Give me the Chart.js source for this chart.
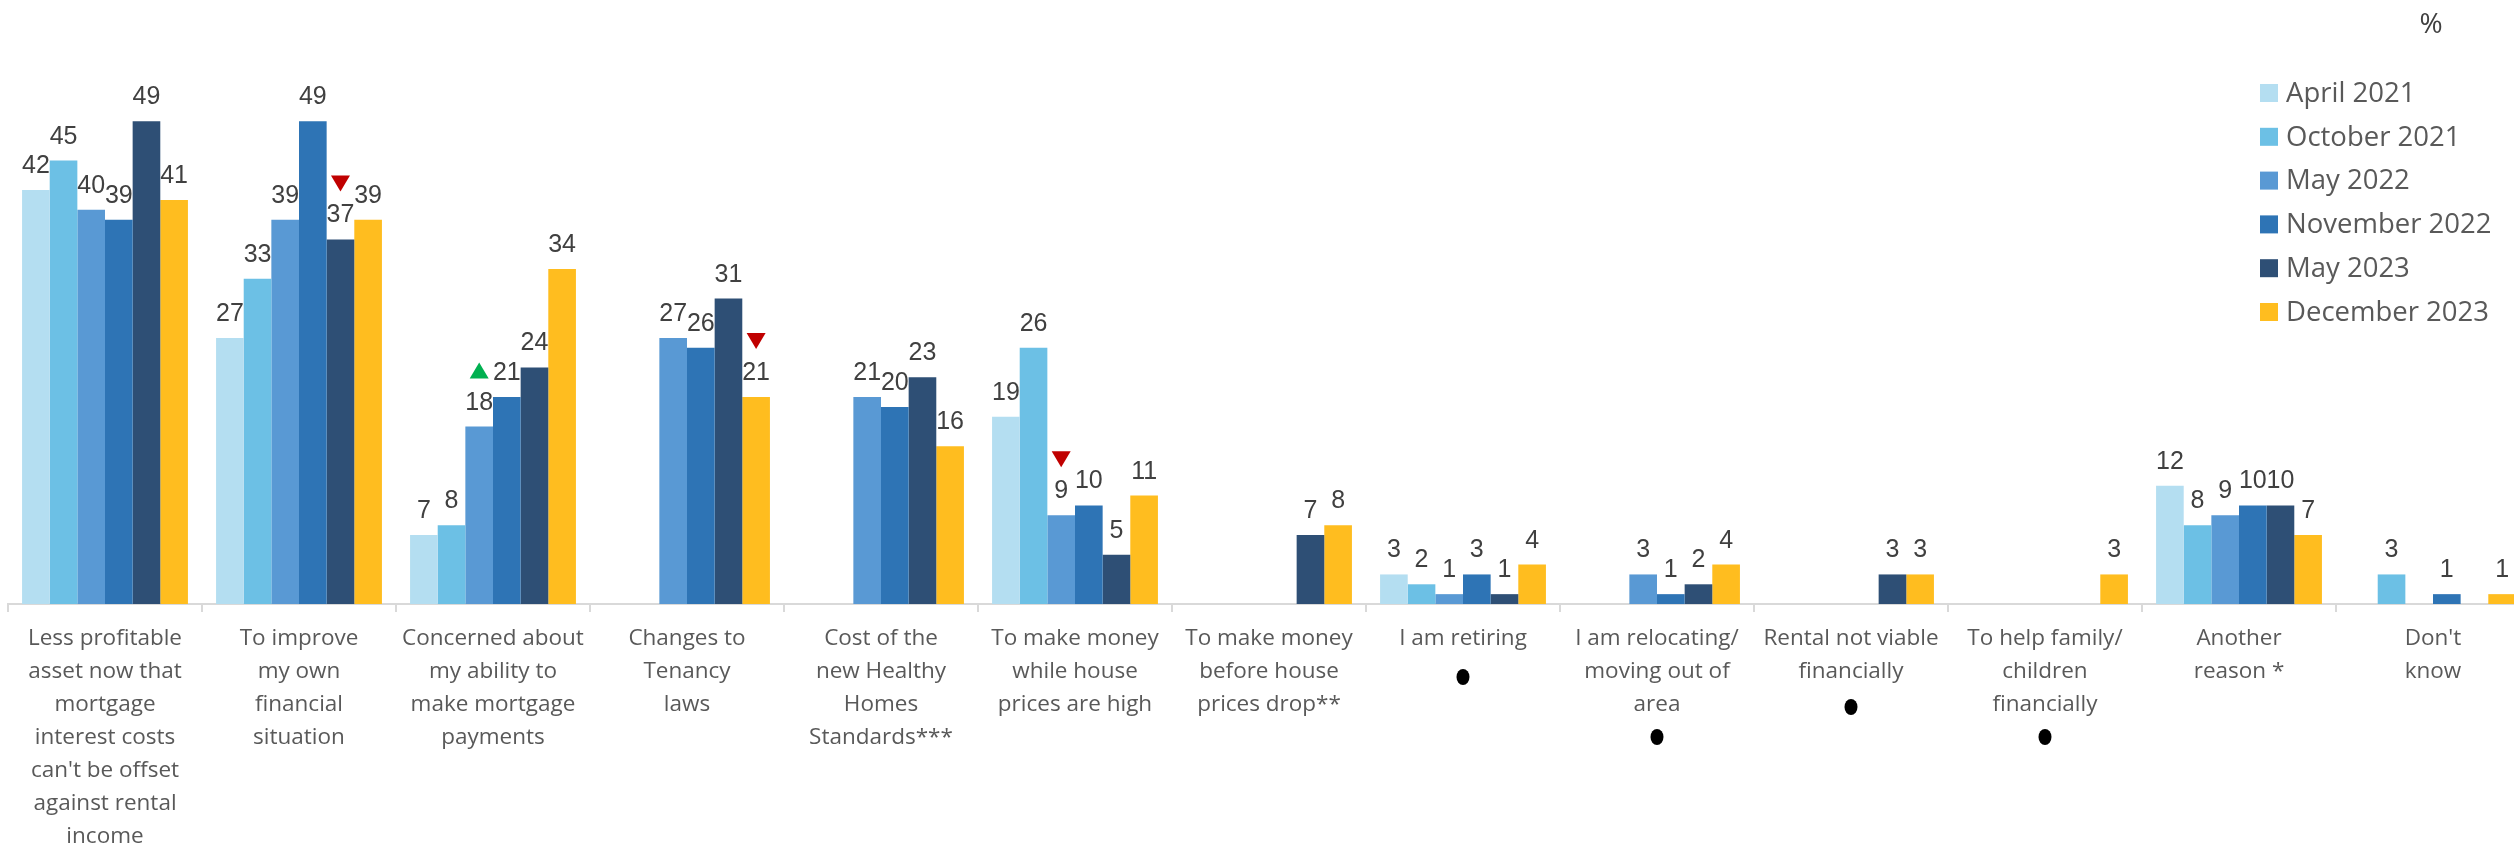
<!DOCTYPE html>
<html>
<head>
<meta charset="utf-8">
<script src="https://cdn.jsdelivr.net/npm/chart.js@4.4.0/dist/chart.umd.min.js"></script>
<style>
  html, body { margin: 0; padding: 0; background: #fff; overflow: hidden; }
  #wrap { width: 2514px; height: 843px; overflow: hidden; }
</style>
</head>
<body>
<div id="wrap"><canvas id="reasons" width="2540" height="843"></canvas></div>
<script>
// reasons for selling, one group of bars per reason
var categories = [
  ['Less profitable', 'asset now that', 'mortgage', 'interest costs', "can't be offset", 'against rental', 'income'],
  ['To improve', 'my own', 'financial', 'situation'],
  ['Concerned about', 'my ability to', 'make mortgage', 'payments'],
  ['Changes to', 'Tenancy', 'laws'],
  ['Cost of the', 'new Healthy', 'Homes', 'Standards***'],
  ['To make money', 'while house', 'prices are high'],
  ['To make money', 'before house', 'prices drop**'],
  ['I am retiring'],
  ['I am relocating/', 'moving out of', 'area'],
  ['Rental not viable', 'financially'],
  ['To help family/', 'children', 'financially'],
  ['Another', 'reason *'],
  ["Don't", 'know']
];
var waves = ['April 2021', 'October 2021', 'May 2022', 'November 2022', 'May 2023', 'December 2023'];
var waveColors = ['#B4DEF1', '#6CC0E5', '#5999D4', '#2E74B5', '#2E4F75', '#FFBD1F'];

var apr2021 = [42, 27, 7, null, null, 19, null, 3, null, null, null, 12, null];
var oct2021 = [45, 33, 8, null, null, 26, null, 2, null, null, null, 8, 3];
var may2022 = [40, 39, 18, 27, 21, 9, null, 1, 3, null, null, 9, null];
var nov2022 = [39, 49, 21, 26, 20, 10, null, 3, 1, null, null, 10, 1];
var may2023 = [49, 37, 24, 31, 23, 5, 7, 1, 2, 3, null, 10, null];
var dec2023 = [41, 39, 34, 21, 16, 11, 8, 4, 4, 3, 3, 7, 1];

// significant changes: [category, wave]
var sigDown = [[1, 4], [3, 5], [5, 2]];
var sigUp = [[2, 2]];
// reasons flagged with a dot under the label
var dotNotes = [7, 8, 9, 10];

var series = [apr2021, oct2021, may2022, nov2022, may2023, dec2023];
var datasets = series.map(function(values, i) {
  return {
    label: waves[i],
    data: values,
    backgroundColor: waveColors[i],
    borderWidth: 0,
    categoryPercentage: 0.855,
    barPercentage: 1.0
  };
});

var labelFont = '"Open Sans", "Noto Sans", sans-serif';

var annotate = {
  id: 'annotate',
  afterDatasetsDraw: function(chart) {
    var ctx = chart.ctx;
    ctx.save();
    ctx.font = '25px "Liberation Sans", Arial, sans-serif';
    ctx.fillStyle = '#404040';
    ctx.textAlign = 'center';
    ctx.textBaseline = 'alphabetic';
    chart.data.datasets.forEach(function(ds, i) {
      var meta = chart.getDatasetMeta(i);
      meta.data.forEach(function(bar, j) {
        if (ds.data[j] == null) return;
        ctx.fillText(ds.data[j], bar.x, bar.y - 17);
      });
    });

    function triangle(cat, wave, up, color) {
      var bar = chart.getDatasetMeta(wave).data[cat];
      var cx = bar.x, cy = bar.y - 56;
      ctx.beginPath();
      if (up) {
        ctx.moveTo(cx, cy - 8);
        ctx.lineTo(cx + 9.5, cy + 8);
        ctx.lineTo(cx - 9.5, cy + 8);
      } else {
        ctx.moveTo(cx - 9.5, cy - 8);
        ctx.lineTo(cx + 9.5, cy - 8);
        ctx.lineTo(cx, cy + 8);
      }
      ctx.closePath();
      ctx.fillStyle = color;
      ctx.fill();
    }
    sigDown.forEach(function(s) { triangle(s[0], s[1], false, '#C00000'); });
    sigUp.forEach(function(s) { triangle(s[0], s[1], true, '#00B050'); });

    var xs = chart.scales.x;
    ctx.fillStyle = '#000';
    dotNotes.forEach(function(c) {
      var x = xs.getPixelForValue(c);
      var y = xs.top + 35 + (categories[c].length - 1) * 30 + 38;
      ctx.beginPath();
      ctx.ellipse(x, y, 6.5, 8, 0, 0, Math.PI * 2);
      ctx.fill();
    });
    ctx.restore();
  },
  afterDraw: function(chart) {
    var ctx = chart.ctx;
    ctx.save();
    ctx.textBaseline = 'middle';
    ctx.textAlign = 'left';
    ctx.font = '27.5px ' + labelFont;
    chart.data.datasets.forEach(function(ds, i) {
      var y = 93 + i * 43.8;
      ctx.fillStyle = ds.backgroundColor;
      ctx.fillRect(2260, y - 9, 18, 18);
      ctx.fillStyle = '#595959';
      ctx.fillText(ds.label, 2286, y + 1);
    });
    ctx.fillStyle = '#404040';
    ctx.textAlign = 'center';
    ctx.font = '28px ' + labelFont;
    ctx.fillText('%', 2431, 25);
    ctx.restore();
  }
};

new Chart(document.getElementById('reasons'), {
  type: 'bar',
  data: { labels: categories, datasets: datasets },
  options: {
    responsive: false,
    devicePixelRatio: 1,
    animation: false,
    layout: { padding: { left: 8, right: 10, top: 62, bottom: 0 } },
    plugins: { legend: { display: false }, tooltip: { enabled: false } },
    scales: {
      x: {
        grid: { offset: true, drawOnChartArea: false, drawTicks: true, tickLength: 8, color: '#d9d9d9', lineWidth: 2 },
        border: { color: '#d9d9d9', width: 2 },
        ticks: {
          color: '#595959',
          font: { family: labelFont, size: 22.5, lineHeight: '33px' },
          padding: 10,
          maxRotation: 0,
          minRotation: 0,
          autoSkip: false
        },
        afterFit: function(scale) { scale.height = 239; }
      },
      y: { display: false, min: 0, max: 55 }
    }
  },
  plugins: [annotate]
});
</script>
</body>
</html>
